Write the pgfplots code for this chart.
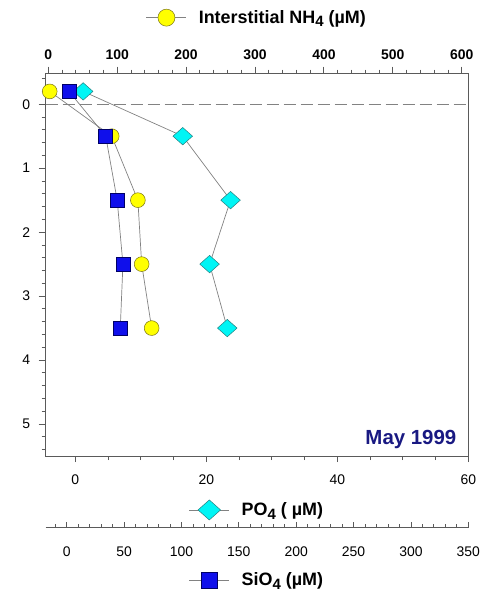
\documentclass[border=0pt]{standalone}
\usepackage{pgfplots}
\pgfplotsset{compat=1.18}
\usepackage{fontspec}
\setmainfont{Liberation Sans}

\definecolor{axgray}{RGB}{90,90,90}
\definecolor{lgray}{RGB}{130,130,130}
\definecolor{myyellow}{RGB}{255,255,0}
\definecolor{myblue}{RGB}{15,15,235}
\definecolor{mycyan}{RGB}{0,245,245}
\definecolor{navyt}{RGB}{25,25,130}

\newcommand{\sub}[1]{\raisebox{-0.35ex}{\fontsize{15}{15}\selectfont #1}}

\pgfplotsset{
 common/.style={
  scale only axis, width=422.6bp, height=382.5bp,
  at={(0,0)}, anchor=south west,
  ymin=-0.48, ymax=5.5, y dir=reverse,
  /pgf/number format/assume math mode=true,
  tick label style={font=\fontsize{14}{14}\selectfont, text=black},
  axis line style={axgray, line width=0.8bp},
  tick style={axgray, line width=0.8bp},
  major tick length=7bp, minor tick length=4bp,
  legend image code/.code={\draw[mark repeat=2,mark phase=2,##1] plot coordinates {(0bp,0bp) (20bp,0bp) (40bp,0bp)};},
  legend image post style={every mark/.append style={scale=1.15}},
  legend style={draw=none, fill=none, font=\fontsize{18}{20}\selectfont\bfseries, anchor=center,
    /tikz/every odd column/.append style={column sep=10bp}},
  clip=false,
 },
}

\begin{document}
\begin{tikzpicture}
\path[use as bounding box] (-45.7bp,-136bp) rectangle (437.3bp,456bp);

% NH4 axis (top) with full box
\begin{axis}[common,
 xmin=-3.8, xmax=609.6,
 xtick={0,100,...,600}, minor xtick={0,20,...,600},
 xtick pos=right, xticklabel pos=right,
 ytick={0,1,2,3,4,5}, minor ytick={-0.4,-0.2,...,5.41},
 ytick pos=left,
 tick align=outside,
 xticklabel style={font=\fontsize{14}{14}\selectfont\bfseries, yshift=3bp},
 yticklabel style={xshift=-5bp},
 extra y ticks={0}, extra y tick labels={},
 extra y tick style={grid=major, major grid style={lgray, dash pattern=on 12bp off 5bp, line width=0.8bp}, tick style={draw=none}},
 legend style={at={(0.5,1.146)}},
]
\addplot[lgray, line width=0.7bp, mark=*, mark size=7.4bp,
  mark options={fill=myyellow, draw=olive!80!black, solid, line width=0.5bp}]
  coordinates {(2,-0.2)(92,0.5)(130,1.5)(135.5,2.5)(150,3.5)};
\addlegendentry{Interstitial NH\sub{4} (µM)}
\node[anchor=east, font=\fontsize{20.5}{20.5}\selectfont\bfseries, text=navyt] at (axis description cs:0.980,0.042) {May 1999};
\end{axis}

% PO4 axis (bottom)
\begin{axis}[common,
 xmin=-4.52, xmax=60,
 axis x line*=bottom, axis y line=none,
 xtick={0,20,40,60}, minor xtick={0,5,...,60},
 tick align=outside, major tick length=6bp, minor tick length=4bp,
 xticklabel style={yshift=-9bp},
 legend style={at={(0.5,-0.141)}},
]
\addplot[lgray, line width=0.7bp, mark=diamond*, mark size=8.7bp,
  mark options={fill=mycyan, draw=teal!70!gray, solid, line width=0.5bp, xscale=1.5}]
  coordinates {(1.2,-0.2)(16.4,0.5)(23.7,1.5)(20.5,2.5)(23.2,3.5)};
\addlegendentry{PO\sub{4} ( µM)}
\end{axis}

% SiO4 axis (lower bottom)
\begin{axis}[common,
 xmin=-18.3, xmax=350,
 axis x line*=bottom, axis y line=none, axis x line shift=71.5bp,
 xtick={0,50,...,350}, minor xtick={-10,0,...,350},
 tick align=inside, major tick length=6bp, minor tick length=4bp,
 xticklabel style={yshift=-16bp},
 legend style={at={(0.5,-0.324)}},
]
\addplot[lgray, line width=0.7bp, mark=square*, mark size=7bp,
  mark options={fill=myblue, draw=blue!40!black, solid, line width=0.5bp}]
  coordinates {(2,-0.2)(34,0.5)(44,1.5)(49,2.5)(46.7,3.5)};
\addlegendentry{SiO\sub{4} (µM)}
\end{axis}
\end{tikzpicture}
\end{document}
